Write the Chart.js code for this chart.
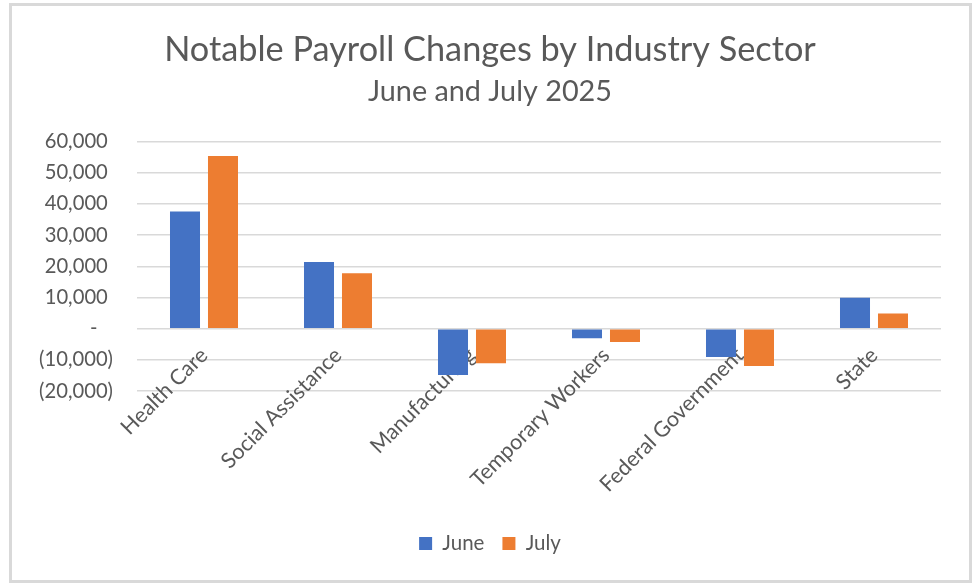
<!DOCTYPE html>
<html>
<head>
<meta charset="utf-8">
<title>Notable Payroll Changes by Industry Sector</title>
<script src="https://cdn.jsdelivr.net/npm/chart.js@4.4.1/dist/chart.umd.min.js"></script>
<style>
  html, body { margin: 0; padding: 0; background: #fff; }
  #wrap { position: relative; width: 980px; height: 588px; }
  #frame {
    position: absolute; left: 9px; top: 3px; width: 957px; height: 574px;
    border: 3px solid #d9d9d9; pointer-events: none;
  }
</style>
</head>
<body>
<div id="wrap">
  <canvas id="payrollChart" width="980" height="588"></canvas>
  <div id="frame"></div>
</div>
<script>
// chart data
const sectors = ['Health Care', 'Social Assistance', 'Manufacturing', 'Temporary Workers', 'Federal Government', 'State'];
const juneChanges = [37600, 21400, -14900, -3100, -9100, 9900];
const julyChanges = [55400, 17800, -11100, -4300, -12000, 4900];
const seriesNames = ['June', 'July'];
const yTicks = [-20000, -10000, 0, 10000, 20000, 30000, 40000, 50000, 60000];

const textColor = '#595959';
const gridColor = '#d9d9d9';
const fontFamily = 'Lato, "Open Sans", sans-serif';

// Excel accounting style: (10,000) for negatives, "-" for zero
function accounting(v) {
  if (v === 0) return '-   ';
  const s = Math.abs(v).toLocaleString('en-US');
  return v < 0 ? '(' + s + ')' : s + ' ';
}

const ctx = document.getElementById('payrollChart').getContext('2d');
const payrollChart = new Chart(ctx, {
  type: 'bar',
  data: {
    labels: sectors,
    datasets: [{
      label: seriesNames[0],
      data: juneChanges,
      backgroundColor: '#4472c4',
      xAxisID: 'x',
      yAxisID: 'y'
    }, {
      label: seriesNames[1],
      data: julyChanges,
      backgroundColor: '#ed7d31',
      xAxisID: 'x',
      yAxisID: 'y'
    }]
  },
  options: {
    responsive: false,
    animation: false,
    events: [],
    categoryPercentage: 0.567,
    barPercentage: 0.79,
    layout: { padding: { left: 0, right: 0, top: 0, bottom: 24.25 } },
    plugins: {
      title: {
        display: true,
        text: 'Notable Payroll Changes by Industry Sector',
        color: textColor,
        font: { family: fontFamily, size: 34.3, weight: 'normal' },
        padding: { top: 29.4, bottom: 4 }
      },
      subtitle: {
        display: true,
        text: 'June and July 2025',
        color: textColor,
        font: { family: fontFamily, size: 28.8, weight: 'normal' },
        padding: { top: 0, bottom: 32.5 }
      },
      legend: {
        position: 'bottom',
        labels: {
          boxWidth: 13,
          boxHeight: 13,
          padding: 18,
          color: textColor,
          font: { family: fontFamily, size: 20.5 }
        }
      },
      tooltip: { enabled: false }
    },
    scales: {
      x: {
        position: { y: 0 },
        grid: { display: false, drawTicks: false },
        border: { display: false },
        afterFit(scale) { scale.paddingLeft = 0; scale.paddingRight = 0; },
        ticks: {
          autoSkip: false,
          minRotation: 45,
          maxRotation: 45,
          padding: 14,
          color: textColor,
          font: { family: fontFamily, size: 21.5 }
        }
      },
      // empty axes that only reserve room: under the plot for the rotated labels, right of it for the margin
      xSpace: {
        type: 'category',
        position: 'bottom',
        grid: { display: false, drawTicks: false },
        border: { display: false },
        ticks: { display: false },
        afterFit(scale) { scale.height = 124.25; }
      },
      yRight: {
        type: 'linear',
        position: 'right',
        grid: { display: false, drawTicks: false },
        border: { display: false },
        ticks: { display: false },
        afterFit(scale) { scale.width = 39; }
      },
      y: {
        min: yTicks[0],
        max: yTicks[yTicks.length - 1],
        afterBuildTicks(scale) { scale.ticks = yTicks.map(v => ({ value: v })); },
        afterFit(scale) { scale.width = 137; },
        grid: { color: gridColor, lineWidth: 1.5, drawTicks: false },
        border: { display: false },
        ticks: {
          padding: 24,
          color: textColor,
          font: { family: fontFamily, size: 20.2 },
          callback: v => accounting(v)
        }
      }
    }
  }
});
</script>
</body>
</html>
